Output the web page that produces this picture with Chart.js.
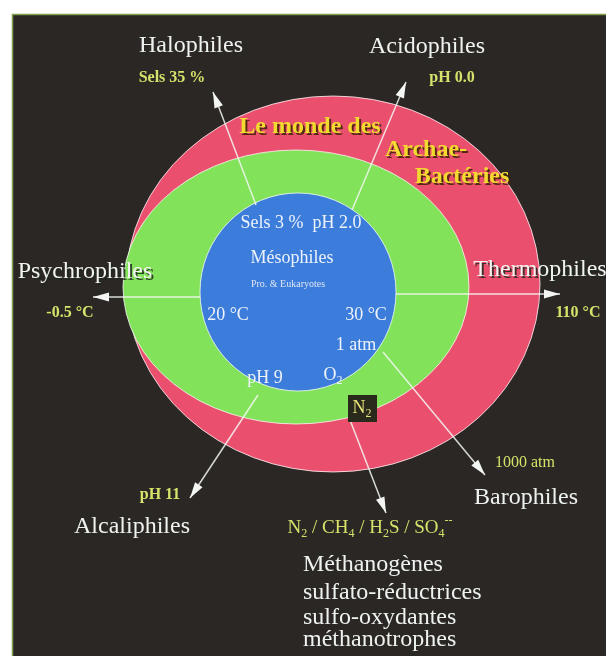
<!DOCTYPE html>
<html lang="fr">
<head>
<meta charset="utf-8">
<title>Le monde des Archae-Bactéries</title>
<script src="https://cdn.jsdelivr.net/npm/chart.js@4/dist/chart.umd.min.js"></script>
<style>
  html, body { margin: 0; padding: 0; background: #fff; }
  #wrap { width: 606px; height: 656px; }
</style>
</head>
<body>
<div id="wrap"><canvas id="diagram" width="606" height="656"></canvas></div>
<script>
// zones, outer to inner (diagram units = page pixels, y downwards)
const zoneNames = ['Archae-Bactéries', 'Extrêmophiles', 'Mésophiles'];
const zoneCx = [333, 296, 298];
const zoneCy = [284, 287, 292];
const zoneRx = [207, 173, 98];
const zoneRy = [188, 137, 99];
const zoneColors = ['#ea506e', '#82e25a', '#3c7ddb'];

// arrows: from the mesophile conditions out to the extreme ones
const arrowNames = ['Halophiles', 'Acidophiles', 'Psychrophiles', 'Thermophiles', 'Alcaliphiles', 'Gaz', 'Barophiles'];
const arrowFromX = [256, 352, 200, 396, 258, 350, 383];
const arrowFromY = [205, 210, 297, 294, 395, 420, 352];
const arrowToX = [213, 406, 93, 560, 190, 386, 485];
const arrowToY = [92, 82, 297, 294, 498, 513, 475];

// texts: '_' = next char subscript, '^' = next char superscript
const labelTexts = [
  'Halophiles', 'Sels 35 %', 'Acidophiles', 'pH 0.0',
  'Le monde des', 'Archae-', 'Bactéries',
  'Psychrophiles', '-0.5 °C', 'Thermophiles', '110 °C',
  'Sels 3 %  pH 2.0', 'Mésophiles', 'Pro. & Eukaryotes',
  '20 °C', '30 °C', '1 atm', 'pH 9', 'O_2', 'N_2',
  'pH 11', 'Alcaliphiles', '1000 atm', 'Barophiles',
  'N_2 / CH_4 / H_2S / SO_4^-^-',
  'Méthanogènes', 'sulfato-réductrices', 'sulfo-oxydantes', 'méthanotrophes'
];
const labelX = [
  191, 172, 427, 452,
  310, 426, 462,
  85, 70, 540, 578,
  301, 292, 288,
  228, 366, 356, 265, 333, 362,
  160, 132, 525, 526,
  370,
  303, 303, 303, 303
];
const labelY = [
  46, 78, 47, 78,
  127, 150, 177,
  272, 313, 270, 313,
  223, 258, 284,
  315, 315, 345, 378, 375, 408,
  495, 527, 463, 498,
  528,
  565, 593, 618, 640
];
const labelKind = [
  'name', 'value', 'name', 'value',
  'world', 'world', 'world',
  'nameShadow', 'value', 'nameShadow', 'value',
  'inner', 'inner', 'tiny',
  'inner', 'inner', 'inner', 'inner', 'inner', 'box',
  'value', 'name', 'valueSmall', 'name',
  'gas',
  'list', 'list', 'list', 'list'
];

const kindStyle = {
  name:       { font: '24px "Liberation Serif"', color: '#eef3f0', align: 'center' },
  nameShadow: { font: '24px "Liberation Serif"', color: '#f2f4f2', align: 'center', shadow: 'rgba(30,40,30,0.85)' },
  value:      { font: 'bold 16px "Liberation Serif"', color: '#d6e26a', align: 'center' },
  valueSmall: { font: '16px "Liberation Serif"', color: '#d6e26a', align: 'center' },
  gas:        { font: '19px "Liberation Serif"', color: '#d6e26a', align: 'center' },
  world:      { font: 'bold 24px "Liberation Serif"', color: '#f2da2e', align: 'center', shadow: 'rgba(70,35,10,0.9)' },
  inner:      { font: '18px "Liberation Serif"', color: '#eef2fa', align: 'center' },
  tiny:       { font: '10px "Liberation Serif"', color: '#dfe6f5', align: 'center' },
  box:        { font: '18px "Liberation Serif"', color: '#e6e27a', align: 'center', box: '#2a2a1c' },
  list:       { font: '24px "Liberation Serif"', color: '#eef3f0', align: 'left' }
};

function parseRich(text) {
  const parts = [];
  for (let i = 0; i < text.length; i++) {
    const c = text[i];
    if ((c === '_' || c === '^') && i + 1 < text.length) {
      parts.push({ t: text[i + 1], mode: c === '_' ? 'sub' : 'sup' });
      i++;
    } else {
      const last = parts[parts.length - 1];
      if (last && last.mode === 'base') last.t += c;
      else parts.push({ t: c, mode: 'base' });
    }
  }
  return parts;
}

function drawRich(ctx, text, x, y, style, color) {
  const size = parseFloat(style.font.match(/(\d+)px/)[1]);
  const smallFont = style.font.replace(/\d+px/, Math.round(size * 0.65) + 'px');
  const parts = parseRich(text);
  let width = 0;
  parts.forEach(p => {
    ctx.font = p.mode === 'base' ? style.font : smallFont;
    p.w = ctx.measureText(p.t).width;
    width += p.w;
  });
  let cx = style.align === 'center' ? x - width / 2 : x;
  ctx.fillStyle = color;
  ctx.textBaseline = 'middle';
  ctx.textAlign = 'left';
  parts.forEach(p => {
    ctx.font = p.mode === 'base' ? style.font : smallFont;
    let dy = 0;
    if (p.mode === 'sub') dy = size * 0.3;
    if (p.mode === 'sup') dy = -size * 0.4;
    ctx.fillText(p.t, cx, y + dy);
    cx += p.w;
  });
  return width;
}

const diagramPlugin = {
  id: 'diagram',
  beforeDraw(chart) {
    const ctx = chart.ctx;
    ctx.save();
    ctx.fillStyle = '#ffffff';
    ctx.fillRect(0, 0, chart.width, chart.height);
    ctx.fillStyle = '#2b2724';
    ctx.fillRect(12, 14, chart.width - 12, chart.height - 14);
    ctx.strokeStyle = '#7fa04a';
    ctx.lineWidth = 1.5;
    ctx.beginPath();
    ctx.moveTo(12.5, chart.height);
    ctx.lineTo(12.5, 14.5);
    ctx.lineTo(chart.width, 14.5);
    ctx.stroke();
    ctx.restore();
  },
  beforeDatasetsDraw(chart) {
    const ctx = chart.ctx;
    const sx = chart.scales.x, sy = chart.scales.y;
    ctx.save();
    zoneNames.forEach((name, i) => {
      const px = sx.getPixelForValue(zoneCx[i]);
      const py = sy.getPixelForValue(zoneCy[i]);
      const rx = Math.abs(sx.getPixelForValue(zoneCx[i] + zoneRx[i]) - px);
      const ry = Math.abs(sy.getPixelForValue(zoneCy[i] + zoneRy[i]) - py);
      ctx.beginPath();
      ctx.ellipse(px, py, rx, ry, 0, 0, Math.PI * 2);
      ctx.fillStyle = zoneColors[i];
      ctx.fill();
      ctx.strokeStyle = 'rgba(255,255,255,0.75)';
      ctx.lineWidth = 1;
      ctx.stroke();
    });
    ctx.restore();
  },
  afterDatasetsDraw(chart) {
    const ctx = chart.ctx;
    ctx.save();
    // arrow heads on the last point of each arrow line
    chart.data.datasets.forEach((ds, i) => {
      const pts = chart.getDatasetMeta(i).data;
      const a = pts[0], b = pts[1];
      const ang = Math.atan2(b.y - a.y, b.x - a.x);
      const len = 16, half = 4.5;
      ctx.beginPath();
      ctx.moveTo(b.x, b.y);
      ctx.lineTo(b.x - len * Math.cos(ang) + half * Math.sin(ang), b.y - len * Math.sin(ang) - half * Math.cos(ang));
      ctx.lineTo(b.x - len * Math.cos(ang) - half * Math.sin(ang), b.y - len * Math.sin(ang) + half * Math.cos(ang));
      ctx.closePath();
      ctx.fillStyle = '#f4f6f4';
      ctx.fill();
    });
    // labels
    const sx = chart.scales.x, sy = chart.scales.y;
    labelTexts.forEach((text, i) => {
      const style = kindStyle[labelKind[i]];
      const x = sx.getPixelForValue(labelX[i]);
      const y = sy.getPixelForValue(labelY[i]);
      if (style.box) {
        ctx.fillStyle = style.box;
        ctx.fillRect(x - 14, y - 13, 29, 27);
      }
      if (style.shadow) drawRich(ctx, text, x + 2, y + 2, style, style.shadow);
      drawRich(ctx, text, x, y, style, style.color);
    });
    ctx.restore();
  }
};

new Chart(document.getElementById('diagram'), {
  type: 'scatter',
  data: {
    datasets: arrowNames.map((name, i) => ({
      label: name,
      data: [{ x: arrowFromX[i], y: arrowFromY[i] }, { x: arrowToX[i], y: arrowToY[i] }],
      showLine: true,
      borderColor: 'rgba(245,248,245,0.85)',
      borderWidth: 1.5,
      pointRadius: 0,
      clip: false
    }))
  },
  options: {
    responsive: false,
    animation: false,
    events: [],
    layout: { padding: 0 },
    scales: {
      x: { type: 'linear', min: 0, max: 606, display: false },
      y: { type: 'linear', min: 0, max: 656, reverse: true, display: false }
    },
    plugins: {
      legend: { display: false },
      tooltip: { enabled: false }
    }
  },
  plugins: [diagramPlugin]
});
</script>
</body>
</html>
